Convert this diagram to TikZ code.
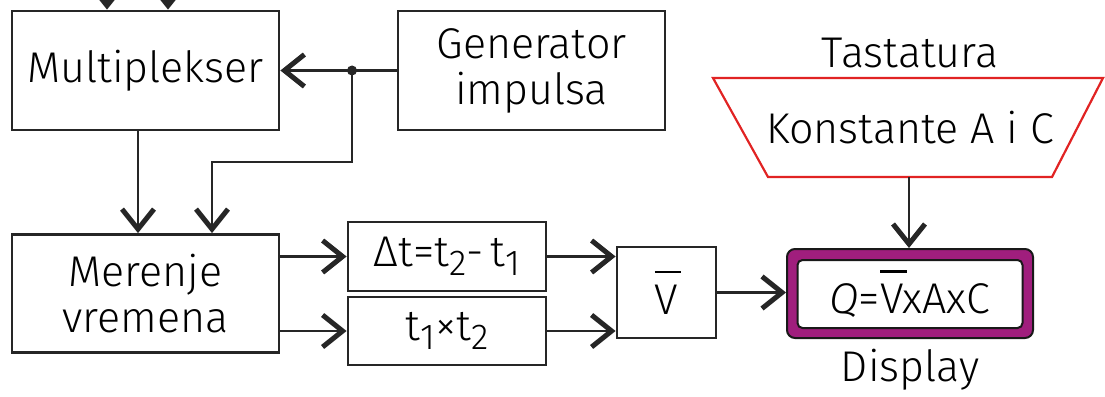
\documentclass[tikz,border=0pt]{standalone}
\usepackage{fontspec}
\setmainfont{Fira Sans Light}
\usetikzlibrary{arrows.meta}
\definecolor{dispP}{RGB}{160,30,125}
\definecolor{trapR}{RGB}{225,35,35}
\newcommand{\subt}[1]{\raisebox{-0.4ex}{\fontsize{36}{36}\selectfont #1}}
\newcommand{\vbar}{\leavevmode\rlap{\raisebox{0.95em}{\rule{0.62em}{2.2pt}}}V}
\tikzset{
  txt/.style={font=\fontsize{43}{48}\selectfont},
  blk/.style={draw=black!85, line width=2.8pt, minimum width=#1, inner sep=0pt, align=center, txt},
  conn/.style={draw=black!85, line width=2.8pt},
  arr/.style={conn, -{Straight Barb[length=20pt,width=32pt,line width=5pt]}},
}
\begin{document}
\begin{tikzpicture}[x=1pt,y=-1pt]
\useasboundingbox (0,0) rectangle (1105,396);
\node[blk=267pt, minimum height=119pt] (mux) at (145.5,70.5) {Multiplekser};
\node[blk=267pt, minimum height=119pt] (gen) at (531.5,70.5) {Generator\\[-2pt]impulsa};
\node[blk=267pt, minimum height=118pt] (mer) at (145.5,293.5) {Merenje\\[-2pt]vremena};
\node[blk=198pt, minimum height=69pt] (dt) at (447,256.5) {Δt=t\subt{2}-\,t\subt{1}};
\node[blk=198pt, minimum height=68pt] (tt) at (447,331) {t\subt{1}×t\subt{2}};
\node[blk=99pt, minimum height=91pt] (vb) at (666.5,292.5) {\vbar};
% display
\node[draw=black!90, line width=2pt, fill=dispP, rounded corners=8pt, minimum width=246pt, minimum height=89pt] (disp) at (910,293.5) {};
\node[draw=black!90, line width=2pt, fill=white, rounded corners=5pt, minimum width=225pt, minimum height=68pt, txt] (dispin) at (910,294) {\textit{Q}=\vbar xAxC};
\node[txt] (dlab) at (910,370) {Display};
% keyboard trapezoid
\draw[trapR, line width=2.2pt] (713,78) -- (1103,78) -- (1052,177) -- (768,177) -- cycle;
\coordinate (tb) at (909,177);
\node[txt] (kon) at (910,128) {Konstante A i C};
\node[txt] (tas) at (910,53) {Tastatura};
% connectors
\coordinate (in1) at (107,-10);
\coordinate (in2) at (168,-10);
\draw[arr] (in1) -- (in1 |- mux.north);
\draw[arr] (in2) -- (in2 |- mux.north);
\coordinate (jn) at (352,70.5);
\draw[conn] (gen.west) -- (jn);
\draw[arr] (jn) -- (mux.east);
\fill[black!85] (jn) circle (5pt);
\coordinate (c1) at (352,162);
\coordinate (c2) at (212,162);
\draw[arr] (jn) -- (c1) -- (c2) -- (c2 |- mer.north);
\coordinate (m1) at (138,130);
\draw[arr] (m1 |- mux.south) -- (m1 |- mer.north);
\draw[arr] (mer.east |- dt) -- (dt.west);
\draw[arr] (mer.east |- tt) -- (tt.west);
\draw[arr] (dt.east) -- (vb.west |- dt);
\draw[arr] (tt.east) -- (vb.west |- tt);
\draw[arr] (vb.east) -- (disp.west |- vb.east);
\draw[arr] (tb) -- (tb |- disp.north);
\end{tikzpicture}
\end{document}
